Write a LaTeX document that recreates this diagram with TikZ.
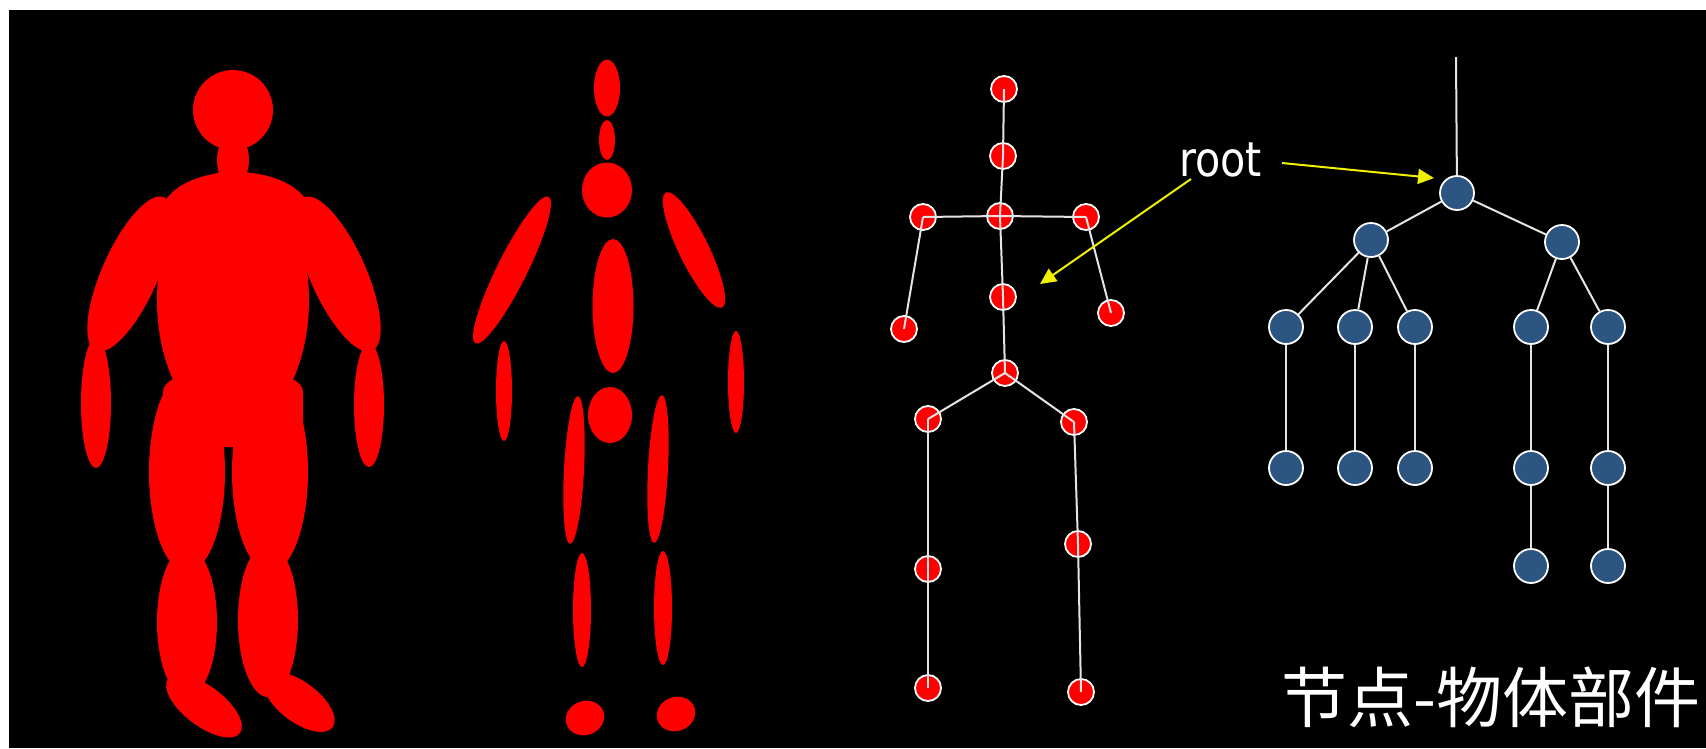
\documentclass[tikz,border=0pt]{standalone}
\usepackage{fontspec}
\usetikzlibrary{arrows.meta}
\newfontfamily\cjkfont{Noto Sans CJK SC}
\newfontfamily\latinfont{DejaVu Sans}
\definecolor{bodyred}{RGB}{255,0,0}
\definecolor{treeblue}{RGB}{44,85,130}
\definecolor{bonegray}{RGB}{228,228,228}
\definecolor{pointeryellow}{RGB}{240,240,0}

\begin{document}
\begin{tikzpicture}[x=1pt, y=-1pt,
  body/.style={fill=bodyred},
  joint/.style={circle, fill=bodyred, draw=white, line width=1.8pt,
                minimum size=26pt, inner sep=0pt},
  treenode/.style={circle, fill=treeblue, draw=white, line width=1.8pt,
                   minimum size=34pt, inner sep=0pt},
  bone/.style={draw=bonegray, line width=2pt},
  pointer/.style={draw=pointeryellow, line width=2pt,
                  -{Triangle[length=16pt, width=15pt, fill=pointeryellow]}}]

\useasboundingbox (0,0) rectangle (1706,748);
\fill[white] (0,0) rectangle (1706,748);
\fill[black] (9,10) rectangle (1706,748);

% ---------- solid silhouette ----------
\fill[body] (233,110) circle[radius=40pt];
\fill[body] (233,160) ellipse[x radius=16pt, y radius=26pt];
\fill[body] (236,215) ellipse[x radius=75pt, y radius=43pt];
\fill[body] (233,300) ellipse[x radius=76pt, y radius=130pt];
\fill[body] (130,274) ellipse[x radius=28pt, y radius=84pt, rotate=-24];
\fill[body] (338,274) ellipse[x radius=28pt, y radius=84pt, rotate=24];
\fill[body] (96,403) ellipse[x radius=15pt, y radius=65pt];
\fill[body] (369,405) ellipse[x radius=15pt, y radius=62pt];
\fill[body, rounded corners=14pt] (163,379) rectangle (303,447);
\fill[body] (187,472) ellipse[x radius=38pt, y radius=100pt];
\fill[body] (270,472) ellipse[x radius=38pt, y radius=100pt];
\fill[body] (187,622) ellipse[x radius=30pt, y radius=75pt];
\fill[body] (268,620) ellipse[x radius=30pt, y radius=77pt];
\fill[body] (204,706) ellipse[x radius=45pt, y radius=20pt, rotate=-37];
\fill[body] (299,702) ellipse[x radius=42pt, y radius=20pt, rotate=-37];

% ---------- separated body parts ----------
\fill[body] (607,88) ellipse[x radius=13pt, y radius=28.5pt];
\fill[body] (607,140) ellipse[x radius=8pt, y radius=20pt];
\fill[body] (607,190) ellipse[x radius=25pt, y radius=27.5pt];
\fill[body] (512,270) ellipse[x radius=15pt, y radius=82pt, rotate=-26.5];
\fill[body] (694,250) ellipse[x radius=15pt, y radius=64pt, rotate=26];
\fill[body] (504,391) ellipse[x radius=8pt, y radius=50pt];
\fill[body] (736,382) ellipse[x radius=8pt, y radius=51pt];
\fill[body] (613,306) ellipse[x radius=20.5pt, y radius=67pt];
\fill[body] (610,415) ellipse[x radius=22pt, y radius=28pt];
\fill[body] (574,470) ellipse[x radius=10pt, y radius=74pt, rotate=-3];
\fill[body] (658,469) ellipse[x radius=10pt, y radius=74pt, rotate=-3];
\fill[body] (582,610) ellipse[x radius=9pt, y radius=57pt];
\fill[body] (663,608) ellipse[x radius=9pt, y radius=57pt];
\fill[body] (585,718) ellipse[x radius=19.5pt, y radius=17pt, rotate=20];
\fill[body] (676,714) ellipse[x radius=19.5pt, y radius=17pt, rotate=20];

% ---------- joint skeleton ----------
\node[joint] (head)   at (1004,89)  {};
\node[joint] (neck)   at (1003,156) {};
\node[joint] (chest)  at (1000,216) {};
\node[joint] (lsh)    at (923,217)  {};
\node[joint] (rsh)    at (1086,217) {};
\node[joint] (lhand)  at (904,329)  {};
\node[joint] (rhand)  at (1111,313) {};
\node[joint] (spine)  at (1003,297) {};
\node[joint] (pelvis) at (1005,373) {};
\node[joint] (lhip)   at (928,419)  {};
\node[joint] (rhip)   at (1074,422) {};
\node[joint] (lknee)  at (928,569)  {};
\node[joint] (rknee)  at (1078,544) {};
\node[joint] (lfoot)  at (928,688)  {};
\node[joint] (rfoot)  at (1081,692) {};

\foreach \a/\b in {head/neck, neck/chest, chest/lsh, chest/rsh, lsh/lhand,
                   rsh/rhand, chest/spine, spine/pelvis, pelvis/lhip,
                   pelvis/rhip, lhip/lknee, lknee/lfoot, rhip/rknee,
                   rknee/rfoot}
  \draw[bone] (\a.center) -- (\b.center);

% ---------- hierarchy tree ----------
\node[treenode] (t0)  at (1457,193) {};
\node[treenode] (tl)  at (1371,240) {};
\node[treenode] (tr)  at (1562,242) {};
\node[treenode] (a1)  at (1286,327) {};
\node[treenode] (b1)  at (1355,327) {};
\node[treenode] (c1)  at (1415,327) {};
\node[treenode] (d1)  at (1531,327) {};
\node[treenode] (e1)  at (1608,327) {};
\node[treenode] (a2)  at (1286,468) {};
\node[treenode] (b2)  at (1355,468) {};
\node[treenode] (c2)  at (1415,468) {};
\node[treenode] (d2)  at (1531,468) {};
\node[treenode] (e2)  at (1608,468) {};
\node[treenode] (d3)  at (1531,566) {};
\node[treenode] (e3)  at (1608,566) {};
\coordinate (ttop) at (1456,57);

\draw[bone] (ttop) -- (t0);
\foreach \a/\b in {t0/tl, t0/tr, tl/a1, tl/b1, tl/c1, tr/d1, tr/e1,
                   a1/a2, b1/b2, c1/c2, d1/d2, e1/e2, d2/d3, e2/e3}
  \draw[bone] (\a) -- (\b);

% ---------- labels and pointers ----------
\node[anchor=base west, text=white, inner sep=0pt] (rootlabel) at (1179,176)
  {\latinfont\fontsize{48}{56}\selectfont\scalebox{0.86}[1]{root}};
\coordinate (p1s) at (1282,163);
\coordinate (p1e) at (1434,178);
\coordinate (p2s) at (1191,179);
\coordinate (p2e) at (1040,284);
\draw[pointer] (p1s) -- (p1e);
\draw[pointer] (p2s) -- (p2e);

\node[anchor=base west, text=white, inner sep=0pt] (caption) at (1281,722)
  {\cjkfont\fontsize{66}{72}\selectfont 节点-物体部件};

\end{tikzpicture}
\end{document}
